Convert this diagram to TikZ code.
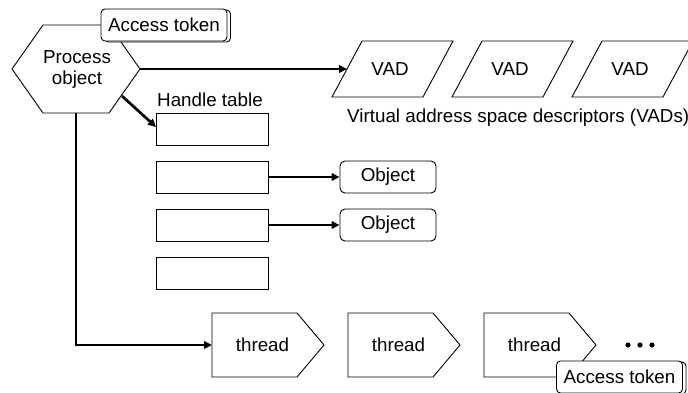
\documentclass[tikz,border=0pt]{standalone}
\usepackage{fontspec}
\setmainfont{Liberation Sans}
\usetikzlibrary{arrows.meta,shadows}
\begin{document}
\begin{tikzpicture}[x=1pt,y=-1pt,
  thinline/.style={line width=0.9pt},
  thickarrow/.style={line width=2.7pt,-{Triangle[length=8pt,width=7.5pt]}},
  lab/.style={font=\fontsize{18.8}{22}\selectfont, inner sep=0pt},
  hbox/.style={draw, line width=0.9pt, minimum width=112pt, minimum height=32pt, inner sep=0pt},
  objbox/.style={draw, line width=0.9pt, fill=white, rounded corners=5pt, minimum width=96pt, minimum height=32pt, inner sep=0pt, font=\fontsize{18.8}{22}\selectfont},
  tokbox/.style={draw, line width=0.9pt, fill=white, rounded corners=4pt, minimum width=126pt, minimum height=32pt, inner sep=0pt, font=\fontsize{18.8}{22}\selectfont, copy shadow={shadow xshift=3.5pt, shadow yshift=-1pt}}
]
\useasboundingbox (0,0) rectangle (688,392);

% process object hexagon
\draw[thinline] (12,69) -- (43,25) -- (109,25) -- (140,69) -- (109,113) -- (43,113) -- cycle;
\node[lab, align=center] (proc) at (77,69) {Process\\[-1pt]object};
\coordinate (pr) at (140,69);
\coordinate (pb) at (76,113);
\coordinate (pd) at (122,96);

% access token 1
\node[tokbox] (tok1) at (164,25) {Access token};

% VADs
\foreach \i/\x in {1/332,2/452,3/572}{
  \draw[thinline] (\x,97) -- (\x+91,97) -- (\x+121,41) -- (\x+30,41) -- cycle;
  \node[lab] (vad\i) at (\x+58,69) {VAD};
}
\coordinate (vadl1) at (347,69);
\draw[thickarrow] (pr) -- (vadl1);
\node[lab, anchor=west] (vadtxt) at (347,118) {Virtual address space descriptors (VADs)};

% handle table
\node[lab, anchor=west] (htlab) at (157,100) {Handle table};
\node[hbox] (h1) at (212,129) {};
\node[hbox] (h2) at (212,177) {};
\node[hbox] (h3) at (212,225) {};
\node[hbox] (h4) at (212,273) {};
\coordinate (h1in) at (156,127);
\draw[thickarrow] (pd) -- (h1in);

\node[objbox] (o1) at (388,177) {Object};
\node[objbox] (o2) at (388,225) {Object};
\draw[thickarrow] (h2.east) -- (o1.west);
\draw[thickarrow] (h3.east) -- (o2.west);

% threads
\foreach \i/\L in {1/212,2/348,3/484}{
  \draw[thinline] (\L,313) -- (\L+85,313) -- (\L+112,345) -- (\L+85,377) -- (\L,377) -- cycle;
  \node[lab] (th\i) at (\L+50.5,345) {thread};
}
\coordinate (thl1) at (212,345);
\draw[thickarrow] (pb) |- (thl1);

% dots
\fill (628,345) circle (2.6pt);
\fill (640,345) circle (2.6pt);
\fill (652,345) circle (2.6pt);

% access token 2
\node[tokbox] (tok2) at (619.5,377) {Access token};
\end{tikzpicture}
\end{document}
